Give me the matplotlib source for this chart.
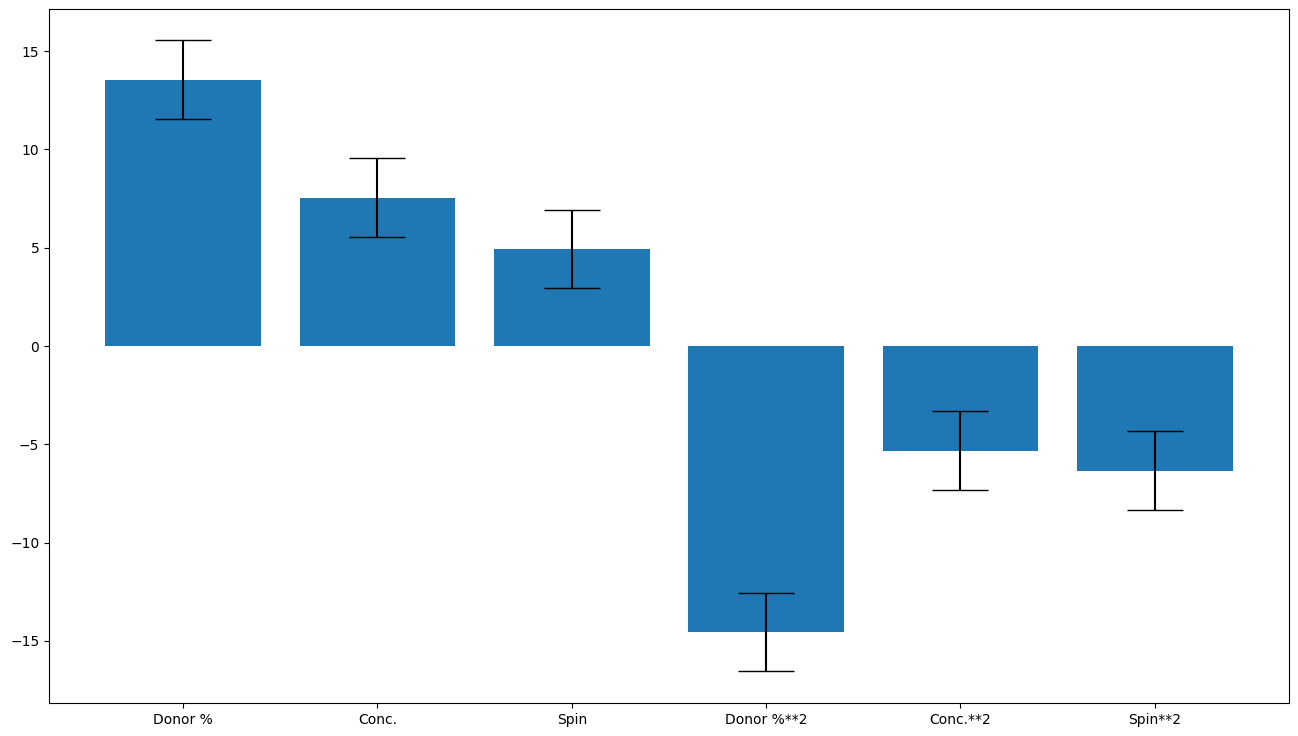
import matplotlib
matplotlib.use("Agg")
import matplotlib.pyplot as plt

# coefficients and their errors
terms = ['Donor %', 'Conc.', 'Spin', 'Donor %**2', 'Conc.**2', 'Spin**2']
coefs = [13.55, 7.55, 4.93, -14.55, -5.32, -6.34]
errors = [2.0, 2.0, 2.0, 2.0, 2.0, 2.0]

fig, ax = plt.subplots(figsize=(12.98, 7.36), dpi=100)
fig.subplots_adjust(left=0.0378, right=0.993, top=0.988, bottom=0.045)

ax.bar(terms, coefs, yerr=errors, capsize=20, color='#1f77b4', ecolor='black')

plt.savefig('out.png', dpi=100)
